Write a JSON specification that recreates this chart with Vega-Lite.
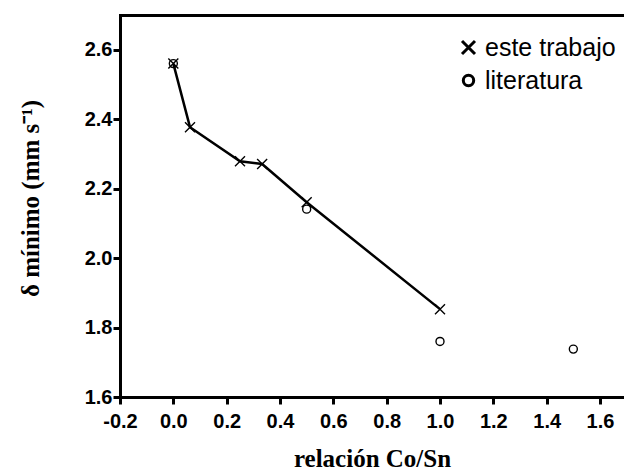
{
  "$schema": "https://vega.github.io/schema/vega-lite/v6.json",
  "width": 504,
  "height": 382,
  "autosize": {"type": "none"},
  "padding": {"left": 120, "top": 15, "right": 0, "bottom": 73},
  "background": "white",
  "config": {
    "view": {"stroke": null},
    "axis": {"grid": false, "domainColor": "black", "tickColor": "black", "labelColor": "black", "titleColor": "black", "domainCap": "square", "labelFlush": false, "labelOverlap": false}
  },
  "data": {
    "values": [
      {"x": 0.0, "y": 2.56, "serie": "este trabajo"},
      {"x": 0.0625, "y": 2.377, "serie": "este trabajo"},
      {"x": 0.25, "y": 2.279, "serie": "este trabajo"},
      {"x": 0.333, "y": 2.271, "serie": "este trabajo"},
      {"x": 0.5, "y": 2.161, "serie": "este trabajo"},
      {"x": 1.0, "y": 1.853, "serie": "este trabajo"},
      {"x": 0.0, "y": 2.56, "serie": "literatura"},
      {"x": 0.5, "y": 2.141, "serie": "literatura"},
      {"x": 1.0, "y": 1.760, "serie": "literatura"},
      {"x": 1.5, "y": 1.738, "serie": "literatura"}
    ]
  },
  "layer": [
    {
      "transform": [{"filter": "datum.serie == 'este trabajo'"}],
      "mark": {"type": "line", "color": "black", "strokeWidth": 2.5},
      "encoding": {
        "x": {
          "field": "x", "type": "quantitative",
          "scale": {"domain": [-0.2, 1.69], "nice": false, "zero": false},
          "axis": {
            "orient": "bottom",
            "values": [-0.2, 0, 0.2, 0.4, 0.6, 0.8, 1.0, 1.2, 1.4, 1.6],
            "labelExpr": "replace(format(datum.value, '.1f'), '−', '-')",
            "title": "relación Co/Sn",
            "domainWidth": 3, "tickWidth": 3, "tickSize": 7,
            "labelFont": "Liberation Sans", "labelFontWeight": "bold", "labelFontSize": 20, "labelPadding": 7,
            "titleFont": "Liberation Serif", "titleFontWeight": "bold", "titleFontSize": 25,
            "titleX": 252, "titleY": 69, "titleBaseline": "alphabetic", "titleAlign": "center"
          }
        },
        "y": {
          "field": "y", "type": "quantitative",
          "scale": {"domain": [1.6, 2.7], "nice": false, "zero": false},
          "axis": {
            "values": [1.6, 1.8, 2.0, 2.2, 2.4, 2.6],
            "format": ".1f",
            "title": "δ mínimo (mm s⁻¹)",
            "domainWidth": 3, "tickWidth": 3, "tickSize": 7,
            "labelFont": "Liberation Sans", "labelFontWeight": "bold", "labelFontSize": 20, "labelPadding": 1,
            "titleFont": "Liberation Serif", "titleFontWeight": "bold", "titleFontSize": 25,
            "titleX": -82, "titleY": 183, "titleAngle": -90, "titleBaseline": "alphabetic", "titleAlign": "center"
          }
        }
      }
    },
    {
      "mark": {"type": "point", "filled": false, "stroke": "black", "strokeWidth": 1.4, "opacity": 1, "size": 100},
      "encoding": {
        "x": {
          "field": "x", "type": "quantitative",
          "axis": {"orient": "top", "labels": false, "ticks": false, "title": null, "domainWidth": 3}
        },
        "y": {"field": "y", "type": "quantitative"},
        "shape": {
          "field": "serie", "type": "nominal",
          "scale": {
            "domain": ["este trabajo", "literatura"],
            "range": ["M-1,-1L1,1M-1,1L1,-1", "M0.8,0A0.8,0.8,0,1,1,-0.8,0A0.8,0.8,0,1,1,0.8,0Z"]
          },
          "legend": {
            "orient": "none", "legendX": 336, "legendY": 20, "title": null, "padding": 0,
            "labelFont": "Liberation Sans", "labelFontSize": 25, "labelColor": "black",
            "symbolSize": 169, "symbolStrokeWidth": 3, "symbolStrokeColor": "black", "symbolFillColor": "transparent",
            "labelOffset": 4, "rowPadding": 7
          }
        }
      }
    }
  ],
  "resolve": {"axis": {"x": "independent"}}
}
